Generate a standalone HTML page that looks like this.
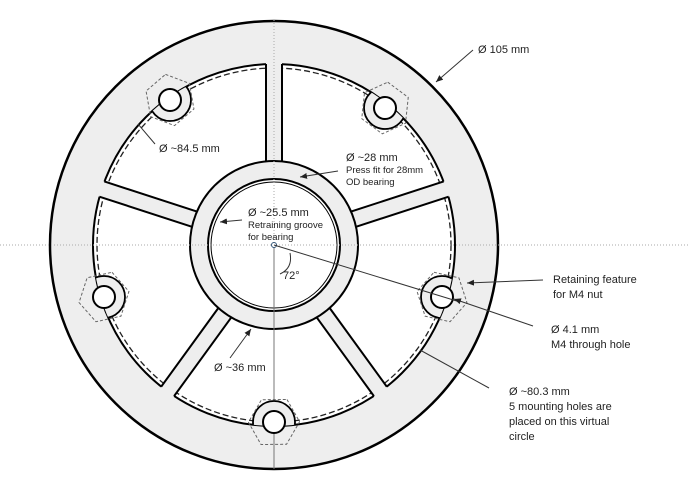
<!DOCTYPE html>
<html><head><style>body{margin:0;background:#fff}svg{display:block}text{font-family:"Liberation Sans",Arial,sans-serif;fill:#222}</style></head>
<body>
<svg width="690" height="488" viewBox="0 0 690 488" xmlns="http://www.w3.org/2000/svg">
<defs>
<clipPath id="ann"><circle cx="274" cy="245" r="181"/></clipPath>
<marker id="ar" markerWidth="8" markerHeight="8" refX="7" refY="3" orient="auto"><path d="M0,0 L7,3 L0,6 z" fill="#222"/></marker>
</defs>
<circle cx="274" cy="245" r="224" fill="#eee" stroke="#000" stroke-width="2.5"/>
<circle cx="274" cy="245" r="181" fill="#fff" stroke="#000" stroke-width="2"/>
<circle cx="274" cy="245" r="177" fill="none" stroke="#222" stroke-width="1.3" stroke-dasharray="6,3"/>
<g id="spokes">
<g transform="rotate(-90 274 245)"><rect x="354" y="237" width="105" height="16" fill="#eee"/><path d="M358 237H455M358 253H455" stroke="#000" stroke-width="2"/></g>
<g transform="rotate(-18 274 245)"><rect x="354" y="237" width="105" height="16" fill="#eee"/><path d="M358 237H455M358 253H455" stroke="#000" stroke-width="2"/></g>
<g transform="rotate(54 274 245)"><rect x="354" y="237" width="105" height="16" fill="#eee"/><path d="M358 237H455M358 253H455" stroke="#000" stroke-width="2"/></g>
<g transform="rotate(126 274 245)"><rect x="354" y="237" width="105" height="16" fill="#eee"/><path d="M358 237H455M358 253H455" stroke="#000" stroke-width="2"/></g>
<g transform="rotate(198 274 245)"><rect x="354" y="237" width="105" height="16" fill="#eee"/><path d="M358 237H455M358 253H455" stroke="#000" stroke-width="2"/></g>
</g>
<circle cx="274" cy="245" r="84" fill="#eee" stroke="#000" stroke-width="2"/>
<circle cx="274" cy="245" r="66" fill="#fff" stroke="#000" stroke-width="2"/>
<circle cx="274" cy="245" r="63" fill="none" stroke="#000" stroke-width="1"/>
<line x1="0" y1="245" x2="690" y2="245" stroke="#aaa" stroke-width="1" stroke-dasharray="1,2"/>
<line x1="274" y1="20" x2="274" y2="245" stroke="#aaa" stroke-width="1" stroke-dasharray="1,2"/>
<line x1="274" y1="245" x2="274" y2="469" stroke="#777" stroke-width="1"/>
<g clip-path="url(#ann)" stroke="#000" stroke-width="1.8" fill="#eee">
<circle cx="170" cy="100" r="21"/><circle cx="385" cy="108" r="21"/><circle cx="442" cy="297" r="21"/><circle cx="274" cy="422" r="21"/><circle cx="104" cy="297" r="21"/>
</g>
<g fill="none" stroke="#666" stroke-width="1" stroke-dasharray="3,2">
<polygon points="170,74 192,87 192,113 170,126 148,113 148,87" transform="rotate(-10 170 100)"/>
<polygon points="385,82 407,95 407,121 385,134 363,121 363,95" transform="rotate(6 385 108)"/>
<polygon points="442,271 464,284 464,310 442,323 420,310 420,284" transform="rotate(-18 442 297)"/>
<polygon points="274,396 296,409 296,435 274,448 252,435 252,409" transform="rotate(30 274 422)"/>
<polygon points="104,271 126,284 126,310 104,323 82,310 82,284" transform="rotate(18 104 297)"/>
</g>
<g fill="#fff" stroke="#000" stroke-width="2">
<circle cx="170" cy="100" r="11"/><circle cx="385" cy="108" r="11"/><circle cx="442" cy="297" r="11"/><circle cx="274" cy="422" r="11"/><circle cx="104" cy="297" r="11"/>
</g>
<circle cx="274" cy="245" r="2.5" fill="#fff" stroke="#357" stroke-width="1"/>
<path d="M290 253 Q293 268 280 274" fill="none" stroke="#333" stroke-width="1"/>
<g stroke="#333" stroke-width="1" fill="none">
<line x1="274" y1="245" x2="460" y2="302"/>
<line x1="473" y1="50" x2="436" y2="82" marker-end="url(#ar)"/>
<line x1="138" y1="124" x2="155" y2="144"/>
<line x1="338" y1="171" x2="300" y2="177" marker-end="url(#ar)"/>
<line x1="242" y1="220" x2="220" y2="222" marker-end="url(#ar)"/>
<line x1="230" y1="358" x2="251" y2="329" marker-end="url(#ar)"/>
<line x1="543" y1="280" x2="467" y2="283" marker-end="url(#ar)"/>
<line x1="533" y1="326" x2="454" y2="299" marker-end="url(#ar)"/>
<line x1="489" y1="388" x2="420" y2="350"/>
</g>
<g font-size="11">
<text x="478" y="53">Ø 105 mm</text>
<text x="159" y="152">Ø ~84.5 mm</text>
<text x="346" y="161">Ø ~28 mm</text>
<text x="346" y="173" font-size="9.5">Press fit for 28mm</text>
<text x="346" y="185" font-size="9.5">OD bearing</text>
<text x="248" y="216">Ø ~25.5 mm</text>
<text x="248" y="228" font-size="9.5">Retraining groove</text>
<text x="248" y="240" font-size="9.5">for bearing</text>
<text x="283" y="279">72°</text>
<text x="214" y="371">Ø ~36 mm</text>
<text x="553" y="283">Retaining feature</text>
<text x="553" y="298">for M4 nut</text>
<text x="551" y="333">Ø 4.1 mm</text>
<text x="551" y="348">M4 through hole</text>
<text x="509" y="395">Ø ~80.3 mm</text>
<text x="509" y="410">5 mounting holes are</text>
<text x="509" y="425">placed on this virtual</text>
<text x="509" y="440">circle</text>
</g>
</svg>
</body></html>
